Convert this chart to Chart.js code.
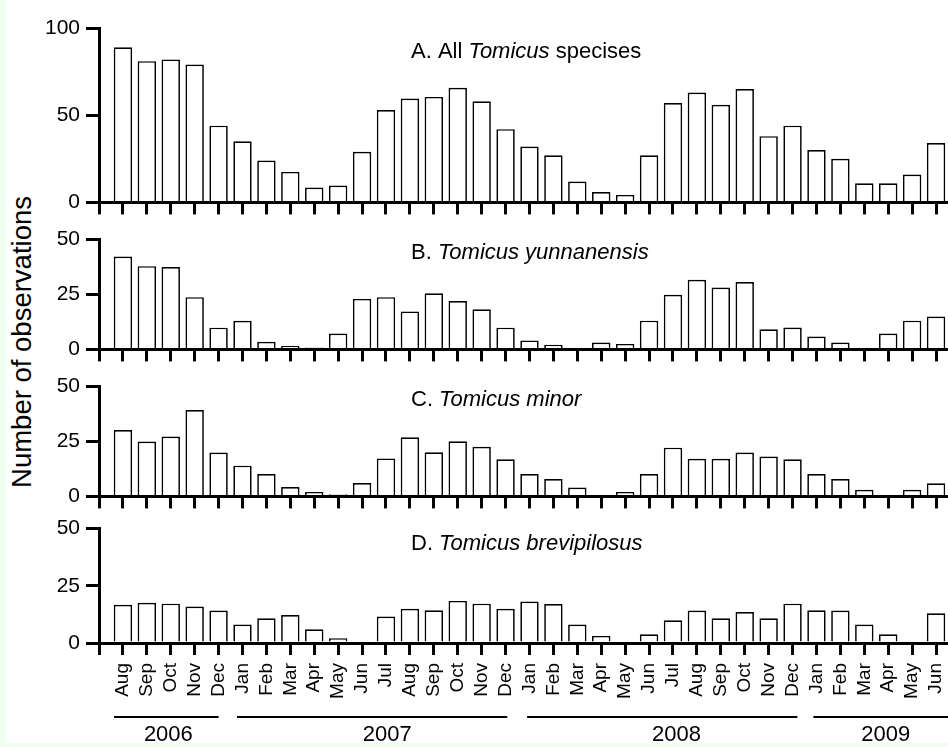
<!DOCTYPE html>
<html>
<head>
<meta charset="utf-8">
<script src="https://cdn.jsdelivr.net/npm/chart.js@4.4.1/dist/chart.umd.min.js"></script>
<style>
  html, body { margin: 0; padding: 0; background: #f0fff0; }
  #sheet { position: absolute; left: 6px; top: 0; width: 942px; height: 743px; background: #fff; }
  canvas { position: absolute; left: 0; }
  #ylab { position: absolute; left: 22px; top: 342px; transform: translate(-50%, -50%) rotate(-90deg);
          font: 27.5px "Liberation Sans", Arial, sans-serif; white-space: nowrap; color: #000; }
</style>
</head>
<body>
<div id="sheet"></div>
<div id="ylab">Number of observations</div>
<canvas id="cA" width="948" height="221" style="top:0px"></canvas>
<canvas id="cB" width="948" height="147" style="top:221px"></canvas>
<canvas id="cC" width="948" height="147" style="top:368px"></canvas>
<canvas id="cD" width="948" height="237" style="top:510px"></canvas>
<script>
// months Aug 2006 .. Jun 2009
var months = ['Aug', 'Sep', 'Oct', 'Nov', 'Dec',
    'Jan', 'Feb', 'Mar', 'Apr', 'May', 'Jun', 'Jul', 'Aug', 'Sep', 'Oct', 'Nov', 'Dec',
    'Jan', 'Feb', 'Mar', 'Apr', 'May', 'Jun', 'Jul', 'Aug', 'Sep', 'Oct', 'Nov', 'Dec',
    'Jan', 'Feb', 'Mar', 'Apr', 'May', 'Jun'];
var years = ['2006', '2007', '2008', '2009'];

var allSpecies = [89, 81, 82, 79, 44,
    35, 24, 17.5, 8.5, 9.7, 29, 53, 59.6, 60.5, 65.7, 58, 42,
    32, 27, 12, 6, 4.3, 27, 57, 63, 56, 65, 38, 44,
    30, 25, 11, 11, 16, 34];
var yunnanensis = [42.3, 37.9, 37.5, 23.8, 9.9,
    13, 3.5, 1.5, 0.9, 7.2, 23, 23.8, 17.3, 25.6, 22, 18.3, 9.9,
    4.1, 2.1, 0, 3.1, 2.5, 13.1, 24.9, 31.7, 28.2, 30.7, 9.2, 10,
    5.9, 3.1, 0, 7.2, 13.1, 15];
var minor = [30.2, 25, 27.3, 39.3, 20,
    14, 10.2, 4.3, 2, 1, 6.1, 17.3, 26.9, 20.1, 25.1, 22.6, 16.9,
    10.2, 7.9, 4, 0, 2, 10.2, 22.2, 17.1, 17.1, 20, 18.2, 16.9,
    10.2, 7.9, 3, 0, 3, 6];
var brevipilosus = [16.7, 17.6, 17.2, 15.9, 14.2,
    8.1, 10.8, 12.2, 6, 2.1, 0, 11.6, 15, 14.3, 18.4, 17.2, 15,
    18.1, 17, 8.1, 3.1, 0, 3.8, 9.9, 14.2, 10.8, 13.5, 10.8, 17.2,
    14.3, 14.2, 8.1, 3.8, 0, 13];

var FONT = '"Liberation Sans", Arial, sans-serif';

// panel title, with the genus/species part in italic
var titlePlugin = {
    id: 'panelTitle',
    afterDraw: function (chart, args, opts) {
        var ctx = chart.ctx;
        var x = chart.chartArea.left + opts.dx;
        var y = chart.chartArea.top + opts.dy;
        ctx.save();
        ctx.fillStyle = '#000';
        ctx.textBaseline = 'middle';
        ctx.textAlign = 'left';
        opts.parts.forEach(function (p) {
            ctx.font = (p[1] ? 'italic ' : '') + '22px ' + FONT;
            ctx.fillText(p[0], x, y);
            x += ctx.measureText(p[0]).width;
        });
        ctx.restore();
    }
};

// year brackets under the month labels (bottom panel only)
var yearPlugin = {
    id: 'yearBars',
    afterDraw: function (chart, args, opts) {
        if (!opts.spans) return;
        var ctx = chart.ctx, xs = chart.scales.x;
        var base = chart.chartArea.bottom;
        ctx.save();
        ctx.strokeStyle = '#000';
        ctx.lineWidth = 2;
        ctx.fillStyle = '#000';
        ctx.font = '22px ' + FONT;
        ctx.textAlign = 'center';
        ctx.textBaseline = 'middle';
        opts.spans.forEach(function (s, i) {
            ctx.beginPath();
            ctx.moveTo(xs.getPixelForValue(s[0]), base + 74);
            ctx.lineTo(Math.min(xs.getPixelForValue(s[1]), chart.width), base + 74);
            ctx.stroke();
            ctx.fillText(years[i], xs.getPixelForValue(opts.labelAt[i]), base + 92);
        });
        ctx.restore();
    }
};

function makePanel(id, values, yMax, yStep, padTop, parts, titleDy, bottom) {
    var ctx = document.getElementById(id).getContext('2d');
    return new Chart(ctx, {
        type: 'bar',
        data: {
            datasets: [{
                data: values.map(function (v, i) { return { x: i, y: v }; }),
                backgroundColor: '#fff',
                borderColor: '#000',
                borderWidth: 1.7,
                categoryPercentage: 1,
                barPercentage: 0.77
            }]
        },
        options: {
            responsive: false,
            animation: false,
            layout: { padding: { top: padTop, left: 0, right: 0, bottom: 0 } },
            plugins: {
                legend: { display: false },
                tooltip: { enabled: false },
                panelTitle: { parts: parts, dx: 312, dy: titleDy },
                yearBars: bottom ? {
                    spans: [[-0.37, 4.0], [4.77, 16.07], [16.9, 28.2], [28.87, 35]],
                    labelAt: [1.9, 11.05, 23.15, 31.9]
                } : {}
            },
            scales: {
                x: {
                    type: 'linear',
                    min: -1,
                    max: 34.5,
                    offset: false,
                    grid: { display: true, offset: false, drawOnChartArea: false, drawTicks: true,
                            tickLength: 12, lineWidth: 3, color: '#000' },
                    border: { display: true, width: 3, color: '#000' },
                    ticks: {
                        display: bottom,
                        stepSize: 1,
                        includeBounds: false,
                        autoSkip: false,
                        maxRotation: 90,
                        minRotation: 90,
                        padding: 8,
                        color: '#000',
                        font: { family: FONT, size: 19 },
                        callback: function (v) { return months[v] || ''; }
                    },
                    afterFit: function (s) {
                        s.height = bottom ? 104 : 14;
                        s.paddingLeft = 0;
                        s.paddingRight = 0;
                    }
                },
                y: {
                    min: 0,
                    max: yMax,
                    grid: { display: true, drawOnChartArea: false, drawTicks: true,
                            tickLength: 13, lineWidth: 3, color: '#000' },
                    border: { display: true, width: 3, color: '#000' },
                    ticks: {
                        stepSize: yStep,
                        padding: 6,
                        color: '#000',
                        font: { family: FONT, size: 21 }
                    },
                    afterFit: function (s) { s.width = 99; }
                }
            }
        },
        plugins: [titlePlugin, yearPlugin]
    });
}

makePanel('cA', allSpecies, 100, 50, 28,
    [['A. All ', false], ['Tomicus', true], [' specises', false]], 24, false);
makePanel('cB', yunnanensis, 50, 25, 14.7,
    [['B. ', false], ['Tomicus yunnanensis', true]], 13.5, false);
makePanel('cC', minor, 50, 25, 16,
    [['C. ', false], ['Tomicus minor', true]], 13, false);
makePanel('cD', brevipilosus, 50, 25, 15,
    [['D. ', false], ['Tomicus brevipilosus', true]], 15, true);
</script>
</body>
</html>
